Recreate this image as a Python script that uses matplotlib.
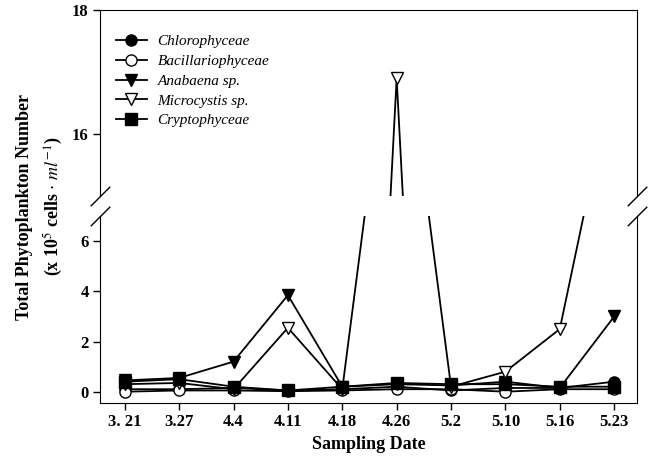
import numpy as np
import matplotlib
matplotlib.use('Agg')
import matplotlib.pyplot as plt

plt.rcParams['font.family'] = ['Liberation Serif', 'DejaVu Serif']
plt.rcParams['mathtext.fontset'] = 'stix'

# sampling dates and cell counts (x 10^5 cells/ml)
dates = ['3. 21', '3.27', '4.4', '4.11', '4.18', '4.26', '5.2', '5.10', '5.16', '5.23']
chloro = [0.1, 0.1, 0.15, 0.05, 0.1, 0.2, 0.05, 0.15, 0.15, 0.4]
bacill = [0.0, 0.05, 0.05, 0.02, 0.05, 0.1, 0.1, 0.0, 0.1, 0.1]
anabaena = [0.45, 0.55, 1.2, 3.85, 0.2, 0.3, 0.25, 0.4, 0.15, 3.0]
microcystis = [0.3, 0.35, 0.1, 2.55, 0.1, 16.9, 0.2, 0.8, 2.5, 12.8]
crypto = [0.4, 0.5, 0.2, 0.05, 0.2, 0.35, 0.3, 0.3, 0.2, 0.2]

series = [
    ('Chlorophyceae', chloro, 'o', 'black'),
    ('Bacillariophyceae', bacill, 'o', 'white'),
    ('Anabaena sp.', anabaena, 'v', 'black'),
    ('Microcystis sp.', microcystis, 'v', 'white'),
    ('Cryptophyceae', crypto, 's', 'black'),
]

fig = plt.figure(figsize=(6.52, 4.59), dpi=100)
ax_top = fig.add_axes([0.153, 0.573, 0.824, 0.405])
ax_bot = fig.add_axes([0.153, 0.122, 0.824, 0.407])

x = np.arange(len(dates))
for ax in (ax_top, ax_bot):
    for name, vals, mk, fc in series:
        ax.plot(x, vals, color='black', lw=1.3, marker=mk, markersize=8,
                markerfacecolor=fc, markeredgecolor='black', markeredgewidth=1.0,
                label=name)
    ax.set_xlim(-0.46, 9.42)
    ax.tick_params(direction='out', length=5, width=1, labelsize=12, pad=3)

ax_top.set_ylim(15.0, 18.0)
ax_top.set_yticks([16, 18])
ax_top.spines['bottom'].set_visible(False)
ax_top.tick_params(bottom=False, labelbottom=False)

ax_bot.set_ylim(-0.45, 7.0)
ax_bot.set_yticks([0, 2, 4, 6])
ax_bot.spines['top'].set_visible(False)
ax_bot.set_xticks(x)
ax_bot.set_xticklabels(dates)

for ax in (ax_top, ax_bot):
    for lab in ax.get_yticklabels() + ax.get_xticklabels():
        lab.set_fontweight('bold')

# break marks
kw = dict(marker=[(-1, -1), (1, 1)], markersize=14, linestyle='none',
          color='black', mec='black', mew=1, clip_on=False)
ax_top.plot([0, 1], [0, 0], transform=ax_top.transAxes, **kw)
ax_bot.plot([0, 1], [1, 1], transform=ax_bot.transAxes, **kw)

leg = ax_top.legend(loc='upper left', bbox_to_anchor=(-0.015, 1.0), frameon=False,
                    prop={'style': 'italic', 'size': 11},
                    handlelength=2.0, handletextpad=0.7, labelspacing=0.4,
                    borderaxespad=1.2)

ax_bot.set_xlabel('Sampling Date', fontsize=13, fontweight='bold', labelpad=4)
fig.text(0.062, 0.55, 'Total Phytoplankton Number\n(x 10$^5$ cells $\\cdot$ $ml^{-1}$)',
         rotation=90, ha='center', va='center', fontsize=13, fontweight='bold',
         linespacing=1.5)

fig.savefig('out.png', dpi=100)
